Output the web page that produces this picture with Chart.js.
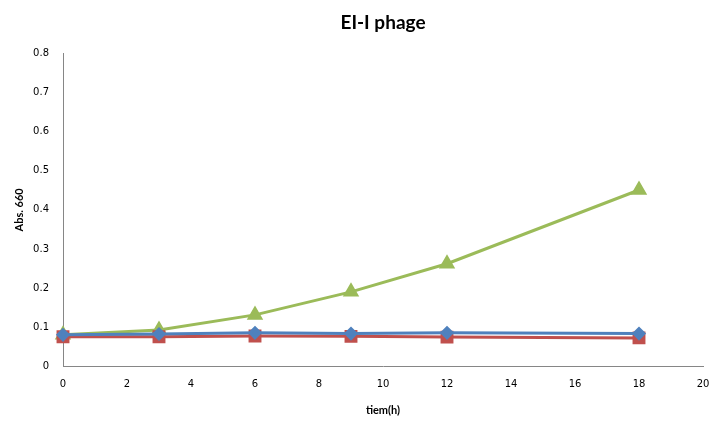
<!DOCTYPE html>
<html>
<head>
<meta charset="utf-8">
<script src="https://cdn.jsdelivr.net/npm/chart.js@4/dist/chart.umd.min.js"></script>
<style>
  html, body { margin: 0; padding: 0; background: #fff; }
  #wrap { width: 713px; height: 421px; position: relative; }
</style>
</head>
<body>
<div id="wrap"><canvas id="c"></canvas></div>
<script>
// Sampling times (h)
const times = [0, 3, 6, 9, 12, 18];
// Absorbance at 660 nm for each culture
const seriesBlue = [0.080, 0.082, 0.085, 0.083, 0.085, 0.083];
const seriesRed = [0.075, 0.075, 0.077, 0.076, 0.074, 0.072];
const seriesGreen = [0.080, 0.092, 0.131, 0.190, 0.262, 0.451];
// Axis settings
const xTicks = { min: 0, max: 20, step: 2 };
const yTicks = { min: 0, max: 0.8, step: 0.1 };

const toPoints = (ys) => times.map((t, i) => ({ x: t, y: ys[i] }));

const tickFont = { family: 'DejaVu Sans', size: 10 };
const axisTitleFont = { family: 'Lato', size: 11, weight: 'bold' };

// Center the chart title over the plot area rather than the whole canvas
const titleOverPlot = {
  id: 'titleOverPlot',
  afterLayout(chart) {
    const t = chart.titleBlock;
    if (!t) return;
    t.left = chart.chartArea.left;
    t.right = chart.chartArea.right;
    t.width = t.right - t.left;
  }
};

new Chart(document.getElementById('c'), {
  type: 'line',
  data: {
    datasets: [
      { data: toPoints(seriesBlue), borderColor: '#4F81BD', backgroundColor: '#4F81BD',
        pointStyle: 'rectRot', pointRadius: 5, borderWidth: 3 },
      { data: toPoints(seriesRed), borderColor: '#C0504D', backgroundColor: '#C0504D',
        pointStyle: 'rect', pointRadius: 7, borderWidth: 3 },
      { data: toPoints(seriesGreen), borderColor: '#9BBB59', backgroundColor: '#9BBB59',
        pointStyle: 'triangle', pointRadius: 6.5, borderWidth: 3 }
    ]
  },
  plugins: [titleOverPlot],
  options: {
    responsive: true,
    maintainAspectRatio: false,
    animation: false,
    layout: { padding: { left: 0, right: 9, top: 0, bottom: 0 } },
    elements: { line: { tension: 0 }, point: { borderWidth: 0, hoverRadius: 6 } },
    datasets: { line: { clip: false } },
    plugins: {
      legend: { display: false },
      tooltip: { enabled: false },
      title: {
        display: true,
        text: 'EI-I phage',
        color: '#000',
        font: { family: 'Lato', size: 19, weight: 'bold' },
        padding: { top: 11, bottom: 20 }
      }
    },
    scales: {
      x: {
        type: 'linear',
        min: xTicks.min, max: xTicks.max,
        ticks: { stepSize: xTicks.step, color: '#000', font: tickFont, padding: 12, maxRotation: 0 },
        grid: { display: true, color: 'rgba(0,0,0,0)', drawTicks: false },
        border: { display: true, color: '#868686', width: 1 },
        title: { display: true, text: 'tiem(h)', color: '#000', font: axisTitleFont, padding: { top: 0, bottom: 4 } },
        afterFit: (s) => { s.height = 55; s.paddingRight = 9; }
      },
      y: {
        min: yTicks.min, max: yTicks.max,
        ticks: { stepSize: yTicks.step, color: '#000', font: tickFont, padding: 14 },
        grid: { display: true, color: 'rgba(0,0,0,0)', drawTicks: false },
        border: { display: true, color: '#868686', width: 1 },
        title: { display: true, text: 'Abs. 660', color: '#000', font: axisTitleFont, padding: { top: 13, bottom: 0 } },
        afterFit: (s) => { s.width = 63; }
      }
    }
  }
});
</script>
</body>
</html>
